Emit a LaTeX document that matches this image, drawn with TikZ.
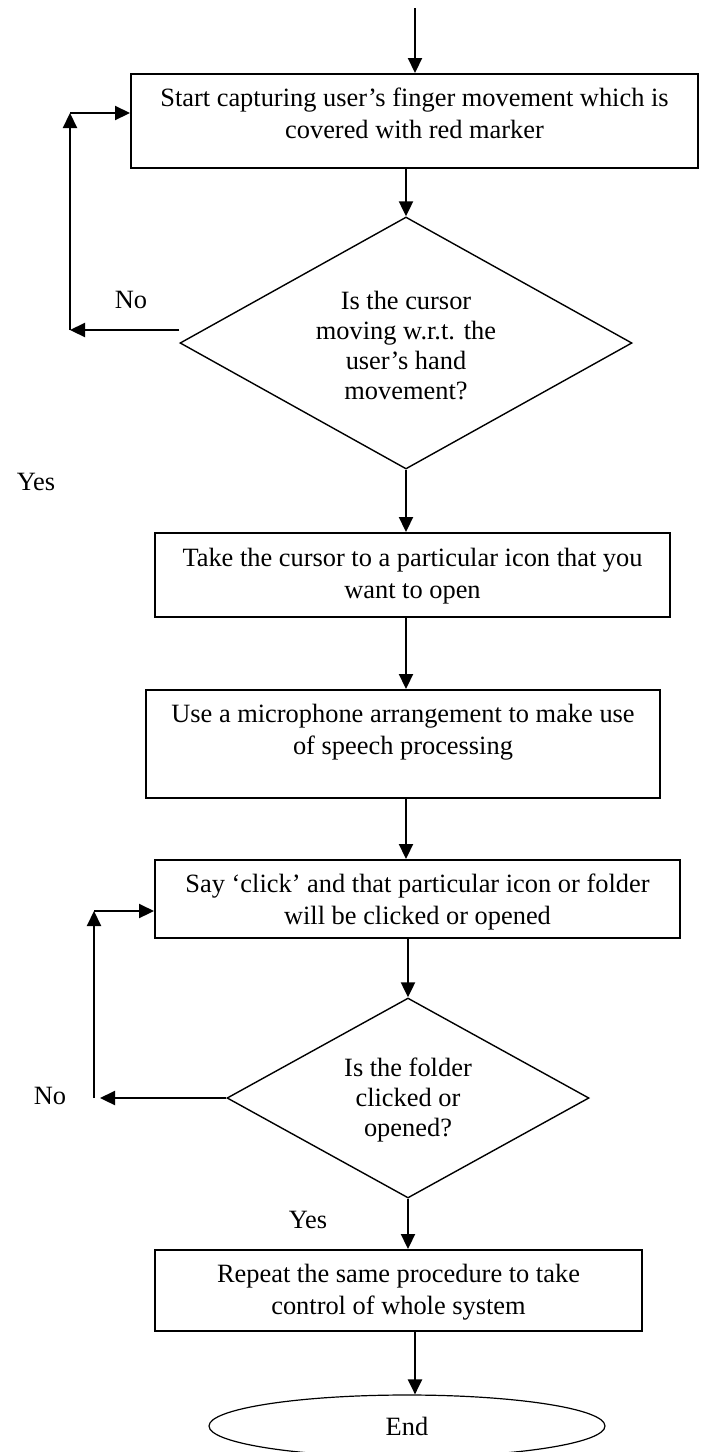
\documentclass[tikz,border=0pt]{standalone}
\usepackage{fontspec}
\setmainfont{Liberation Serif}
\usetikzlibrary{arrows.meta,shapes.geometric}
\newcommand\hfix[1]{\rule{0pt}{#1}}
\newcommand\dfix[1]{\rule[-#1]{0pt}{#1}}
\begin{document}
\begin{tikzpicture}[x=0.5pt,y=-0.5pt,
  every node/.style={font=\fontsize{13.2}{16}\selectfont},
  procbox/.style={draw,line width=1pt,rectangle,align=center,inner sep=0pt},
  decision/.style={draw,line width=0.7pt,diamond,aspect=1.8,align=center,inner sep=0pt,font=\fontsize{13.2}{15}\selectfont},
  terminal/.style={draw,line width=0.6pt,ellipse,inner sep=0pt},
  arr/.style={line width=1.1pt,-{Triangle[length=7.5pt,width=7pt]}},
  lbl/.style={inner sep=0pt}]
\useasboundingbox (0,0) rectangle (701,1452);

\node[procbox,minimum width=283.5pt,minimum height=47pt] (box1) at (414.5,121)
  {\hfix{12pt}Start capturing user’s finger movement which is\\covered with red marker\dfix{11pt}};
\node[decision,minimum width=226pt,minimum height=126pt] (d1) at (406,343)
  {\hfix{14pt}Is the cursor\\moving w.r.t. the\\user’s hand\\movement?\dfix{3pt}};
\node[procbox,minimum width=257.5pt,minimum height=42pt] (box2) at (412.5,575)
  {\hfix{12pt}Take the cursor to a particular icon that you\\want to open\dfix{5pt}};
\node[procbox,minimum width=257pt,minimum height=54pt] (box3) at (403,744)
  {\hfix{12pt}Use a microphone arrangement to make use\\of speech processing\dfix{18pt}};
\node[procbox,minimum width=262.5pt,minimum height=39pt] (box4) at (417.5,899)
  {\hfix{14pt}Say ‘click’ and that particular icon or folder\\will be clicked or opened\dfix{5pt}};
\node[decision,minimum width=181pt,minimum height=100pt] (d2) at (408,1098)
  {\hfix{13pt}Is the folder\\clicked or\\opened?\dfix{5pt}};
\node[procbox,minimum width=243.5pt,minimum height=40.5pt] (box5) at (398.5,1290.5)
  {\hfix{13pt}Repeat the same procedure to take\\control of whole system\dfix{5.5pt}};
\node[terminal,minimum width=198pt,minimum height=31pt] (end) at (407,1426) {End};

\node[lbl] (no1) at (131,300) {No};
\node[lbl] (yes1) at (36,482) {Yes};
\node[lbl] (no2) at (50,1096) {No};
\node[lbl] (yes2) at (308,1220) {Yes};

\coordinate (top) at (415,8);
\draw[arr] (top) -- (top |- box1.north);
\draw[arr] (d1.north |- box1.south) -- (d1.north);
\draw[arr] (d1.south) -- (d1.south |- box2.north);
\draw[arr] (d1.south |- box2.south) -- (d1.south |- box3.north);
\draw[arr] (d1.south |- box3.south) -- (d1.south |- box4.north);
\draw[arr] (d2.north |- box4.south) -- (d2.north);
\draw[arr] (d2.south) -- (d2.south |- box5.north);
\coordinate (e5) at (415,1331);
\draw[arr] (e5 |- box5.south) -- (e5 |- end.north);

\coordinate (n1) at (70,330);
\coordinate (c1) at (70,113);
\draw[arr] (d1.west |- n1) -- (n1);
\draw[arr] (n1) -- (c1);
\draw[arr] (c1) -- (c1 -| box1.west);

\coordinate (n2) at (100,1098);
\coordinate (m2) at (94,1098);
\coordinate (c2) at (94,911);
\draw[arr] (d2.west) -- (n2);
\draw[arr] (m2) -- (c2);
\draw[arr] (c2) -- (c2 -| box4.west);
\end{tikzpicture}
\end{document}
